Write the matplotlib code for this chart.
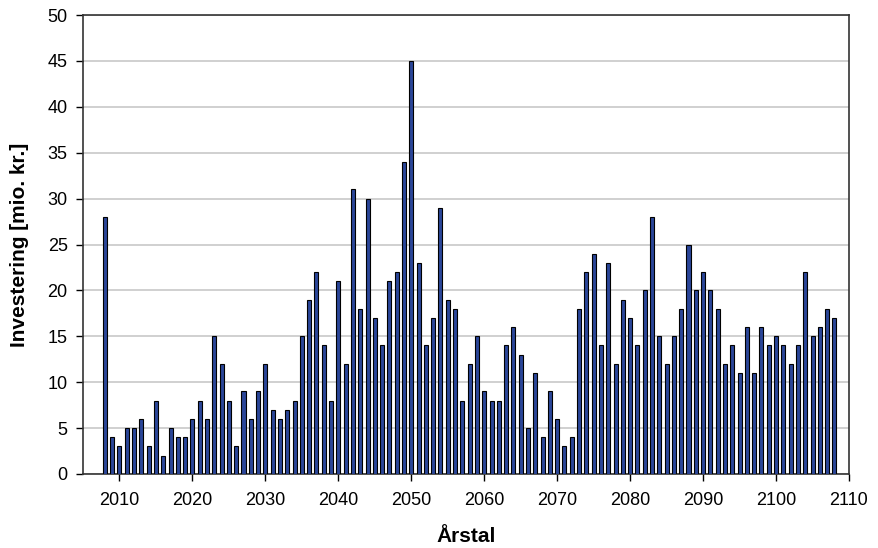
import matplotlib
matplotlib.use("Agg")
import matplotlib.pyplot as plt
import numpy as np

years = list(range(2008, 2109))
values = [28, 4, 3, 5, 5, 6, 3, 8, 2, 5, 4, 4, 6, 8, 6, 15, 12, 8, 3, 9,
          6, 9, 12, 7, 6, 7, 8, 15, 19, 22, 14, 8, 21, 12, 31, 18, 30, 17, 14, 21,
          22, 34, 45, 23, 14, 17, 29, 19, 18, 8, 12, 15, 9, 8, 8, 14, 16, 13, 5, 11,
          4, 9, 6, 3, 4, 18, 22, 24, 14, 23, 12, 19, 17, 14, 20, 28, 15, 12, 15, 18,
          25, 20, 22, 20, 18, 12, 14, 11, 16, 11, 16, 14, 15, 14, 12, 14, 22, 15, 16, 18,
          17]
xticks = list(range(2010, 2111, 10))
yticks = list(range(0, 51, 5))

plt.rcParams['font.family'] = ['Liberation Sans', 'DejaVu Sans']

fig = plt.figure(figsize=(8.79, 5.48), dpi=100)
ax = fig.add_axes([83/879, 1 - 474/548, (849-83)/879, (474-15)/548])

ax.bar(years, values, width=0.55, color='#2B4699', edgecolor='black', linewidth=0.8, zorder=3)

ax.set_xlim(2005, 2110)
ax.set_ylim(0, 50)
ax.set_xticks(xticks)
ax.set_yticks(yticks)
ax.yaxis.grid(True, color='#c8c8c8', linewidth=1.2, zorder=0)
ax.tick_params(axis='both', direction='out', length=5, width=1, labelsize=13, colors='black')
ax.tick_params(axis='x', pad=8)
ax.tick_params(axis='y', pad=6)
for s in ax.spines.values():
    s.set_color('#333333')
    s.set_linewidth(1.2)

ax.set_xlabel('Årstal', fontsize=15, fontweight='bold')
ax.set_ylabel('Investering [mio. kr.]', fontsize=15, fontweight='bold')
ax.xaxis.set_label_coords(0.5, (474 - 537) / 459)
ax.xaxis.label.set_va('center')
ax.yaxis.set_label_coords((20 - 83) / 766, 0.5)
ax.yaxis.label.set_va('center')

fig.savefig('out.png', dpi=100)
